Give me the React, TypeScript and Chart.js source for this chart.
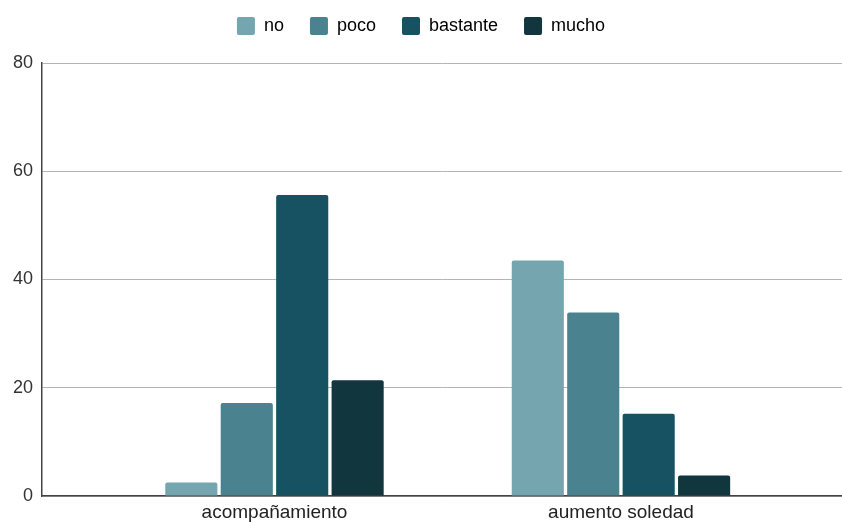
import React, { useEffect, useRef } from "react";
import { Chart, registerables } from "chart.js";

Chart.register(...registerables);

const categories = ["acompañamiento", "aumento soledad"];
const seriesNames = ["no", "poco", "bastante", "mucho"];
const noValues = [2.5, 43.5];
const pocoValues = [17.2, 33.9];
const bastanteValues = [55.6, 15.2];
const muchoValues = [21.4, 3.8];
const yTicks = [0, 20, 40, 60, 80];
const colors = ["#75a6b0", "#4a828f", "#175262", "#11363e"];

const legendExtra = {
  id: "legendExtra",
  beforeInit(chart: any) {
    const legend = chart.legend;
    if (!legend) return;
    const orig = legend.fit;
    legend.fit = function () {
      orig.call(this);
      this.height += 18;
    };
  },
};

export default function App() {
  const ref = useRef<HTMLCanvasElement | null>(null);
  useEffect(() => {
    document.body.style.margin = "0";
    const canvas = ref.current;
    if (!canvas) return;
    const allSeries = [noValues, pocoValues, bastanteValues, muchoValues];
    const chart = new Chart(canvas, {
      type: "bar",
      data: {
        datasets: allSeries.map((vals, si) => ({
          label: seriesNames[si],
          data: vals.map((v, i) => ({ x: i, y: v })),
          backgroundColor: colors[si],
          borderRadius: 2,
          borderSkipped: "start",
          categoryPercentage: 0.64,
          barPercentage: 0.94,
        })),
      },
      options: {
        responsive: false,
        animation: false,
        layout: { padding: { top: -9, left: 0, right: 0, bottom: 0 } },
        font: { family: "'Liberation Sans', Arial, sans-serif" },
        plugins: {
          tooltip: { enabled: false },
          legend: {
            position: "top",
            align: "center",
            labels: {
              boxWidth: 18,
              boxHeight: 18,
              padding: 26,
              color: "#222",
              font: { size: 18, family: "'Liberation Sans', Arial, sans-serif" },
              generateLabels: (c: any) =>
                c.data.datasets.map((ds: any, i: number) => ({
                  text: ds.label,
                  fillStyle: ds.backgroundColor,
                  strokeStyle: ds.backgroundColor,
                  lineWidth: 0,
                  borderRadius: 2,
                  datasetIndex: i,
                  hidden: false,
                })),
            },
          },
        },
        scales: {
          x: {
            type: "linear",
            offset: false,
            min: -0.671,
            max: 1.638,
            grid: { display: false, drawTicks: false, offset: false },
            border: { display: true, color: "#444", width: 1.5 },
            afterBuildTicks: (scale: any) => {
              scale.ticks = categories.map((_, i) => ({ value: i }));
            },
            afterFit: (scale: any) => {
              scale.height = 26;
            },
            ticks: {
              autoSkip: false,
              maxRotation: 0,
              padding: 5,
              color: "#222",
              font: { size: 19, family: "'Liberation Sans', Arial, sans-serif" },
              callback: (v: any) => categories[v] ?? "",
            },
          },
          y: {
            min: 0,
            max: 80,
            afterBuildTicks: (scale: any) => {
              scale.ticks = yTicks.map((v) => ({ value: v }));
            },
            afterFit: (scale: any) => {
              scale.width = 42;
            },
            grid: { color: "#b4b4b4", lineWidth: 1, drawTicks: false },
            border: { display: true, color: "#444", width: 1.5 },
            ticks: {
              padding: 9,
              color: "#333",
              font: { size: 18, family: "'Liberation Sans', Arial, sans-serif" },
            },
          },
        },
      },
      plugins: [legendExtra],
    } as any);
    return () => chart.destroy();
  }, []);
  return (
    <div style={{ width: 842, height: 522 }}>
      <canvas ref={ref} width={842} height={522} />
    </div>
  );
}
